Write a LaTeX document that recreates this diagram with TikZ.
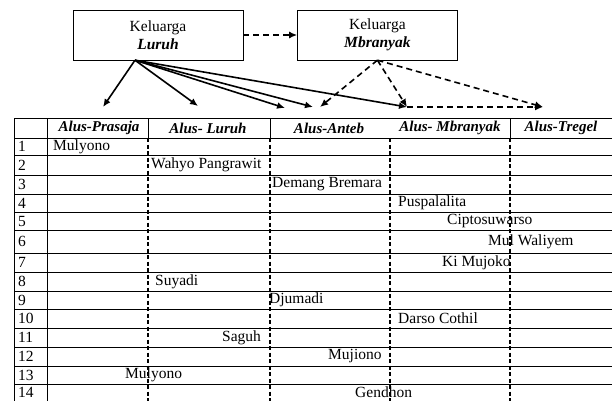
\documentclass[tikz,border=0pt]{standalone}
\usepackage{fontspec}
\setmainfont{Liberation Serif}
\usetikzlibrary{arrows.meta}
\usetikzlibrary{positioning}

\begin{document}
\begin{tikzpicture}[x=1pt,y=-1pt,>={Latex[length=8pt,width=7pt]},font=\fontsize{15.5}{18}\selectfont,
    keluarga/.style={draw,thin,minimum height=50pt,align=center,inner sep=2pt},
    garis/.style={->,line width=1.6pt},
    putus/.style={->,line width=1.6pt,dash pattern=on 6pt off 4pt},
    kolom/.style={line width=1.3pt,dash pattern=on 4pt off 2.5pt},
    judul/.style={font=\fontsize{15}{17}\selectfont\bfseries\itshape},
    isi/.style={anchor=west,inner sep=0pt}]
    \useasboundingbox (0,0) rectangle (612,401);
    % kotak keluarga
    \node[keluarga,minimum width=170pt] (luruh) at (158,35) {Keluarga\\\textbf{\textit{Luruh}}};
    \node[keluarga,minimum width=160pt] (mbranyak) [right=54pt of luruh] {Keluarga\\\textbf{\textit{Mbranyak}}};
    \draw[putus] (luruh) -- (mbranyak);
    % ujung panah
    \coordinate (asal) at ([xshift=-23pt]luruh.south);
    \coordinate (tPrasaja) at (103,107);
    \coordinate (tLuruh) at (198,106);
    \coordinate (tAntebA) at (285,108);
    \coordinate (tAntebB) at (313,107);
    \coordinate (tAntebC) at (320,107);
    \coordinate (tMbranyak) at (407,107);
    \coordinate (tTregel) at (543,107);
    \path[garis] (asal) edge (tPrasaja) edge (tLuruh) edge (tAntebA) edge (tAntebB) edge (tMbranyak);
    \path[putus] (mbranyak.south) edge (tAntebC) edge (tMbranyak) edge (tTregel)
                 (tMbranyak) edge (tTregel);
    % tabel
    \foreach \y in {118,138,155,175,194,212,230,253,272,291,309,328,347,366,384}
        \draw[thin] (14,\y) -- (612,\y);
    \draw[thin] (14,118) -- (14,401) (47,118) -- (47,401);
    \foreach \x in {148,270,510}
        \draw[thin] (\x,118) -- (\x,138);
    \node[judul] (hPrasaja) at (99,128) {Alus-Prasaja};
    \node[judul] (hLuruh) at (208,128) {Alus- Luruh};
    \node[judul] (hAnteb) at (329,128) {Alus-Anteb};
    \node[judul] (hMbranyak) at (450,128) {Alus- Mbranyak};
    \node[judul] (hTregel) at (561,128) {Alus-Tregel};
    \foreach \i/\y in {1/146.5,2/165,3/184.5,4/203,5/221,6/241.5,7/262.5,8/281.5,9/300,10/318.5,11/337.5,12/356.5,13/375,14/392.5}
        \node[isi] (n\i) at (18,\y) {\i};
    \node[isi] (mulyono) at (53,146.5) {Mulyono};
    \node[isi] (wahyo) at (151,165) {Wahyo Pangrawit};
    \node[isi] (demang) at (272,184.5) {Demang Bremara};
    \node[isi] (puspa) at (398,203) {Puspalalita};
    \node[isi] (cipto) at (447,221) {Ciptosuwarso};
    \node[isi] (waliyem) at (488,241.5) {Mul Waliyem};
    \node[isi] (mujoko) at (442,262.5) {Ki Mujoko};
    \node[isi] (suyadi) at (155,281.5) {Suyadi};
    \node[isi] (djumadi) at (269,300) {Djumadi};
    \node[isi] (darso) at (398,318.5) {Darso Cothil};
    \node[isi] (saguh) at (222,337.5) {Saguh};
    \node[isi] (mujiono) at (328,356.5) {Mujiono};
    \node[isi] (mulyonob) at (125,375) {Mulyono};
    \node[isi] (gendhon) at (355,392.5) {Gendhon};
    \foreach \x in {148,270,390,510}
        \draw[kolom] (\x,138) -- (\x,401);
\end{tikzpicture}
\end{document}
